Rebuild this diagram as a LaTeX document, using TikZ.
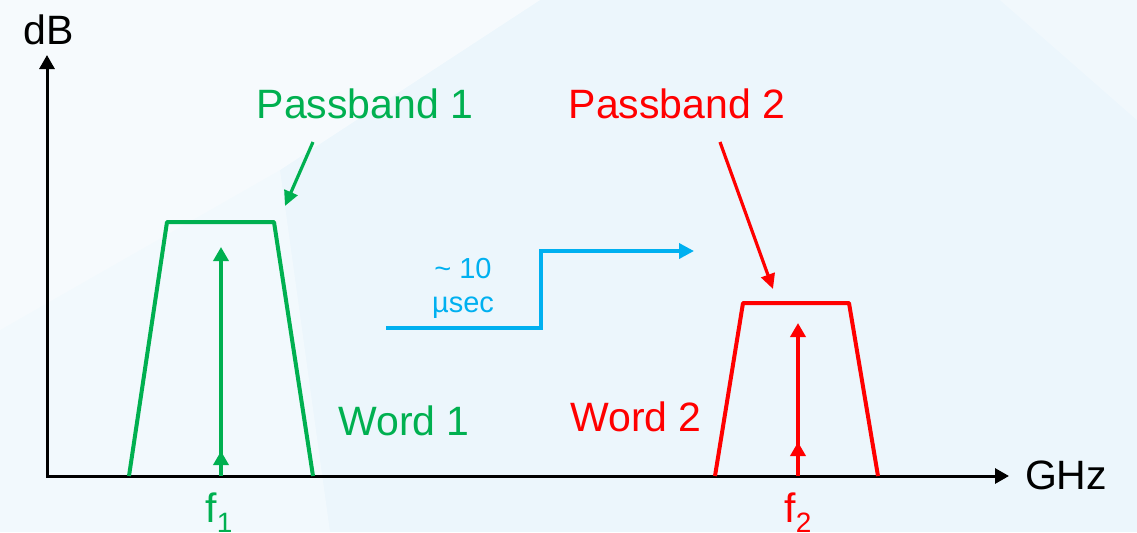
\documentclass[tikz,border=0pt]{standalone}
\usepackage{fontspec}
\setmainfont{Liberation Sans}
\usetikzlibrary{arrows.meta}
\definecolor{bandgreen}{RGB}{0,176,80}
\definecolor{bandred}{RGB}{255,0,0}
\definecolor{stepblue}{RGB}{0,176,240}
\definecolor{slidebg}{RGB}{236,246,252}

\begin{document}
\begin{tikzpicture}[x=0.5pt, y=-0.5pt,
  axis/.style={line width=1.5pt, {Triangle[width=7.5pt, length=7pt]}-{Triangle[width=7.5pt, length=7pt]}},
  band/.style={line width=2pt, line join=round},
  tone/.style={line width=2pt, -{Triangle[width=7.5pt, length=7pt]}},
  pointer/.style={line width=1.6pt, -{Triangle[width=7pt, length=7.5pt]}},
  lbl/.style={inner sep=0pt, font=\fontsize{20.5}{24}\selectfont},
  small/.style={inner sep=0pt, font=\fontsize{14.5}{17}\selectfont, align=center}
]
% slide background
\fill[slidebg] (0,0) rectangle (1137,532);
\fill[white, opacity=0.55] (0,0) -- (540,0) -- (280,170) -- (0,330) -- cycle;
\fill[white, opacity=0.35] (0,330) -- (280,170) -- (330,532) -- (0,532) -- cycle;
\fill[white, opacity=0.3] (1000,0) -- (1137,0) -- (1137,120) -- cycle;
\useasboundingbox (0,0) rectangle (1137,532);

% axes
\coordinate (origin) at (47,476);
\coordinate (ytip) at (47,55);
\coordinate (xtip) at (1009,476);
\draw[axis] (ytip) -- (origin) -- (xtip);
\node[lbl, anchor=base] (dB) at (49,44) {dB};
\node[lbl, anchor=base] (GHz) at (1066,489) {GHz};

% passband 1
\coordinate (g1) at (129,476);
\coordinate (g2) at (167,222);
\coordinate (g3) at (274,222);
\coordinate (g4) at (313,476);
\draw[band, bandgreen] (g1) -- (g2) -- (g3) -- (g4);
\coordinate (f1base) at (221,476);
\coordinate (f1mid) at (221,451);
\coordinate (f1top) at (221,247);
\draw[tone, bandgreen] (f1base) -- (f1top);
\draw[tone, bandgreen] (f1base) -- (f1mid);
\node[lbl, anchor=base west, text=bandgreen] (f1) at (205,522)
  {f\raisebox{-0.25em}{\fontsize{14}{14}\selectfont 1}};
\node[lbl, anchor=base, text=bandgreen] (pb1) at (365,118) {Passband 1};
\coordinate (pb1from) at (313,142);
\coordinate (pb1to) at (285,206);
\draw[pointer, bandgreen] (pb1from) -- (pb1to);
\node[lbl, anchor=base, text=bandgreen] (word1) at (404,435) {Word 1};

% passband 2
\coordinate (r1) at (715,476);
\coordinate (r2) at (743,303);
\coordinate (r3) at (849,303);
\coordinate (r4) at (878,476);
\draw[band, bandred] (r1) -- (r2) -- (r3) -- (r4);
\coordinate (f2base) at (798,476);
\coordinate (f2mid) at (798,442);
\coordinate (f2top) at (798,323);
\draw[tone, bandred] (f2base) -- (f2top);
\draw[tone, bandred] (f2base) -- (f2mid);
\node[lbl, anchor=base west, text=bandred] (f2) at (784,522)
  {f\raisebox{-0.25em}{\fontsize{14}{14}\selectfont 2}};
\node[lbl, anchor=base, text=bandred] (pb2) at (677,118) {Passband 2};
\coordinate (pb2from) at (720,142);
\coordinate (pb2to) at (773,289);
\draw[pointer, bandred] (pb2from) -- (pb2to);
\node[lbl, anchor=base, text=bandred] (word2) at (636,431) {Word 2};

% switching step
\coordinate (step0) at (386,328);
\coordinate (step1) at (541,251);
\coordinate (step2) at (694,251);
\draw[line width=1.8pt, stepblue, -{Triangle[width=7.5pt, length=7.5pt]}]
  (step0) -| (step1) -- (step2);
\node[small, text=stepblue] (delay) at (463,288) {\textasciitilde{} 10\\µsec};
\end{tikzpicture}
\end{document}
